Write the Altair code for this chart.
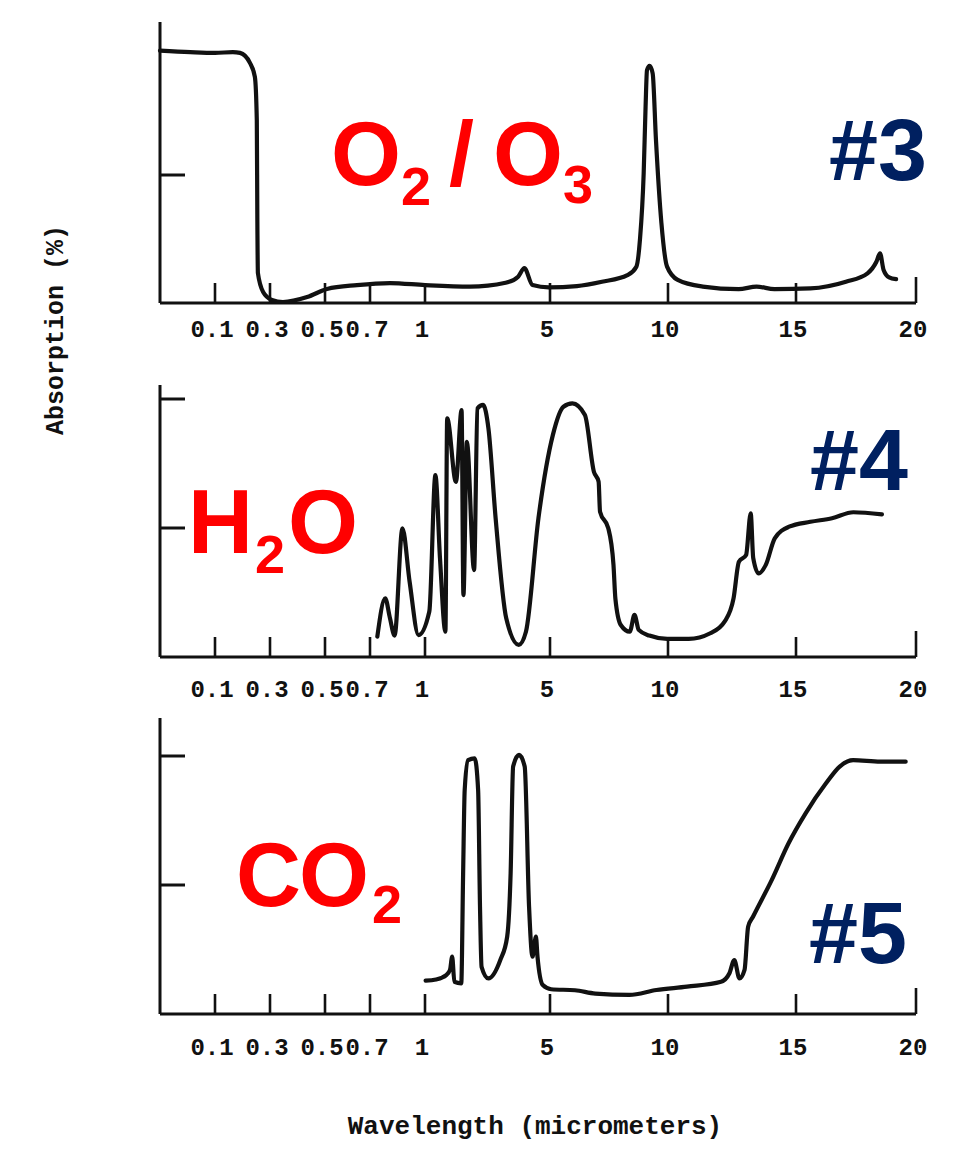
import altair as alt
import pandas as pd

# ---------------- data ----------------
# broken wavelength axis (micrometers)
x_tick_vals = [0.1, 0.3, 0.5, 0.7, 1, 5, 10, 15]
x_end_tick = [20]
x_label_vals = [0.1, 0.3, 0.5, 0.7, 1, 5, 10, 15, 20]
x_labels = ["0.1", "0.3", "0.5", "0.7", "1", "5", "10", "15", "20"]
y_tick_vals = [50, 100]
y_tick_vals_top = [50]  # the 100 % tick of the top panel is hidden under the curve

# O2 / O3 absorption (%)
o3_wl = [0.0, 0.055, 0.1, 0.165, 0.191, 0.227, 0.245, 0.252, 0.254, 0.256, 0.275, 0.307, 0.347,
         0.435, 0.509, 0.642, 0.809, 1.0, 2.44, 3.58, 3.98, 4.18, 4.44, 4.96, 6.14, 7.20, 8.28,
         8.66, 8.81, 8.97, 9.05, 9.11, 9.22, 9.35, 9.49, 9.72, 9.96, 10.38, 11.36, 12.76, 13.46,
         14.16, 15.60, 17.08, 17.98, 18.35, 18.5, 18.65, 18.88, 19.17]
o3_abs = [98.6, 98.0, 97.7, 98.0, 97.7, 93.8, 88.3, 71.5, 32.4, 11.7, 4.3, 1.2, 0.4,
          2.3, 5.5, 7.0, 7.8, 7.0, 6.4, 7.9, 10.3, 13.6, 7.0, 6.1, 6.6, 8.3, 10.9,
          14.2, 24.6, 50.8, 76.7, 91.0, 92.6, 89.7, 63.7, 31.3, 14.2, 9.0, 6.4, 5.4, 6.4,
          5.4, 5.7, 8.3, 11.6, 16.1, 19.4, 12.9, 10.0, 9.3]

# H2O absorption (%)
h2o_wl = [0.740, 0.783, 0.809, 0.834, 0.877, 0.916, 0.965, 1.138, 1.333, 1.48, 1.653, 1.71,
          1.99, 2.17, 2.23, 2.34, 2.57, 2.68, 2.86, 3.03, 3.26, 3.60, 4.00, 4.23, 4.63, 5.12,
          5.57, 5.95, 6.48, 6.86, 7.06, 7.12, 7.47, 7.69, 7.77, 8.00, 8.38, 8.58, 8.76, 9.21,
          9.97, 10.81, 11.65, 12.21, 12.56, 12.77, 13.05, 13.23, 13.33, 13.54, 13.82, 14.17,
          14.73, 15.60, 16.50, 17.39, 18.58]
h2o_abs = [7.9, 22.7, 15.0, 8.3, 49.9, 29.2, 8.5, 17.6, 70.5, 38.2, 9.8, 92.5,
           67.9, 95.7, 24.0, 83.4, 33.7, 96.4, 97.7, 88.6, 53.8, 15.0, 4.7, 9.8, 53.8, 86.0,
           97.0, 98.3, 93.8, 71.8, 67.9, 56.3, 49.9, 35.7, 22.7, 12.4, 9.8, 16.3, 10.5, 8.3,
           7.0, 7.0, 9.2, 13.7, 22.7, 36.9, 39.5, 55.7, 38.3, 32.4, 35.7, 46.0,
           50.5, 52.4, 53.8, 56.1, 55.3]

# CO2 absorption (%)
co2_wl = [1.02, 1.35, 1.68, 1.80, 1.87, 1.94, 2.16, 2.22, 2.27, 2.38, 2.59, 2.70, 2.76, 2.81,
          3.03, 3.41, 3.63, 3.74, 3.82, 4.01, 4.19, 4.33, 4.44, 4.55, 4.60, 4.77, 5.05, 6.06,
          6.92, 8.36, 9.51, 10.74, 12.07, 12.40, 12.59, 12.79, 12.99, 13.13, 13.32, 14.05,
          14.71, 15.40, 16.25, 16.82, 17.38, 18.51, 19.57]
co2_abs = [12.9, 13.4, 15.1, 17.1, 22.2, 12.5, 11.9, 54.5, 86.8, 98.4, 99.1, 86.8, 41.6, 18.3,
           13.8, 20.9, 30.0, 54.5, 95.9, 100.4, 95.9, 41.6, 22.2, 30.0, 22.2, 11.2, 9.6, 9.2,
           7.9, 7.4, 9.3, 10.6, 12.5, 15.8, 20.9, 13.8, 17.1, 33.8, 37.7, 51.9,
           66.2, 77.8, 89.4, 95.9, 98.4, 97.8, 97.8]

# ---------------- layout / style ----------------
RED = "#ff0000"
NAVY = "#002060"
INK = "#111111"
TYPE = "Liberation Mono"
SANS = "Liberation Sans"

W, H = 756, 1140
# piecewise (broken) wavelength scale
XSCALE = alt.Scale(domain=[0, 0.1, 0.3, 0.5, 0.7, 1, 5, 10, 15, 20],
                   range=[0, 55, 110, 165, 210, 265, 390, 508, 636, 756],
                   zero=False, nice=False)

one = pd.DataFrame({"k": [0]})


def panel(wl, ab, yticks_vals, base_px, top100_px, axis_top, label_y):
    ys = alt.Scale(domain=[0, 100], range=[base_px, top100_px], zero=False, nice=False)
    X = lambda f: alt.X(f, scale=XSCALE, axis=None)
    Y = lambda f: alt.Y(f, scale=ys, axis=None)

    df = pd.DataFrame({"wl": wl, "ab": ab, "i": list(range(len(wl)))})
    curve = alt.Chart(df).mark_line(
        color=INK, strokeWidth=4.2, interpolate="monotone",
        strokeJoin="round", strokeCap="round"
    ).encode(x=X("wl:Q"), y=Y("ab:Q"), order="i:Q")

    yaxis = alt.Chart(pd.DataFrame({"wl": [0], "lo": [0], "hi": [axis_top]})).mark_rule(
        color=INK, strokeWidth=3
    ).encode(x=X("wl:Q"), y=Y("lo:Q"), y2="hi:Q")

    xaxis = alt.Chart(pd.DataFrame({"lo": [0], "hi": [20], "ab": [0]})).mark_rule(
        color=INK, strokeWidth=3
    ).encode(x=X("lo:Q"), x2="hi:Q", y=Y("ab:Q"))

    yticks = alt.Chart(pd.DataFrame({"ab": yticks_vals})).mark_rule(
        color=INK, strokeWidth=3
    ).encode(x=alt.value(0), x2=alt.value(25), y=Y("ab:Q"))

    xticks = alt.Chart(pd.DataFrame({"wl": x_tick_vals})).mark_rule(
        color=INK, strokeWidth=2.6
    ).encode(x=X("wl:Q"), y=alt.value(base_px), y2=alt.value(base_px - 20))

    xend = alt.Chart(pd.DataFrame({"wl": x_end_tick})).mark_rule(
        color=INK, strokeWidth=2.6
    ).encode(x=X("wl:Q"), y=alt.value(base_px), y2=alt.value(base_px - 26))

    labels = alt.Chart(pd.DataFrame({"wl": x_label_vals, "lab": x_labels})).mark_text(
        font=TYPE, fontSize=24, fontWeight="bold", color=INK,
        baseline="alphabetic", align="center", dx=-3
    ).encode(x=X("wl:Q"), y=alt.value(label_y), text="lab:N")

    return alt.layer(yaxis, xaxis, yticks, xticks, xend, labels, curve)


def note(text, x, y, size, color, font=SANS, weight="bold", angle=0,
         align="left", baseline="alphabetic"):
    return alt.Chart(one).mark_text(
        text=text, fontSize=size, color=color, font=font, fontWeight=weight,
        angle=angle, align=align, baseline=baseline
    ).encode(x=alt.value(x), y=alt.value(y))


p1 = panel(o3_wl, o3_abs, y_tick_vals_top, 295, 39, 109.8, 329)
p2 = panel(h2o_wl, h2o_abs, y_tick_vals, 649, 391, 105.4, 689)
p3 = panel(co2_wl, co2_abs, y_tick_vals, 1006, 748, 114.7, 1047)

notes = [
    note("O", 171, 177, 90, RED), note("2", 241, 197, 54, RED),
    note("/", 289, 177, 90, RED), note("O", 333, 177, 90, RED),
    note("3", 403, 195, 54, RED), note("#3", 669, 172, 88, NAVY),
    note("H", 28, 545, 90, RED), note("2", 95, 565, 54, RED),
    note("O", 128, 545, 90, RED), note("#4", 650, 482, 88, NAVY),
    note("C", 76, 898, 90, RED), note("O", 139, 898, 90, RED),
    note("2", 212, 915, 54, RED), note("#5", 649, 955, 88, NAVY),
    note("Absorption (%)", -105, 322, 25, INK, font=TYPE, weight="bold",
         angle=270, align="center", baseline="middle"),
    note("Wavelength (micrometers)", 375, 1126, 26, INK, font=TYPE, weight="bold",
         align="center"),
]

chart = alt.layer(p1, p2, p3, *notes).resolve_scale(y="independent").properties(
    width=W, height=H,
    autosize=alt.AutoSizeParams(type="none"),
    padding={"left": 152, "top": 0, "right": 54, "bottom": 0},
    background="white",
).configure_view(strokeWidth=0)

chart.save("out.html", embed_options={"renderer": "svg", "actions": False})
